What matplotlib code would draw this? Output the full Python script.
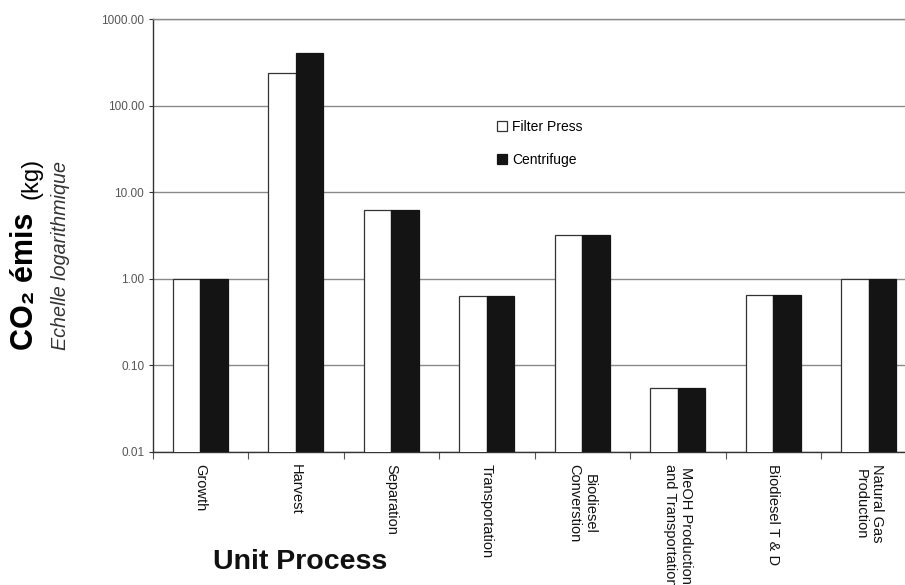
import matplotlib
matplotlib.use("Agg")
import matplotlib.pyplot as plt
from matplotlib.ticker import FixedLocator, FuncFormatter, NullLocator
import numpy as np

plt.rcParams['font.family'] = ['Liberation Sans', 'DejaVu Sans']

# Emissions per unit process (kg CO2), log scale
processes = ["Growth", "Harvest", "Separation", "Transportation",
             "Biodiesel\nConverstion", "MeOH Production\nand Transportation",
             "Biodiesel T & D", "Natural Gas\nProduction"]
filter_press = [1.0, 239.0, 6.26, 0.636, 3.2, 0.055, 0.65, 1.0]
centrifuge = [1.0, 404.0, 6.26, 0.636, 3.2, 0.055, 0.65, 1.0]
series_labels = ["Filter Press", "Centrifuge"]
y_ticks = [0.01, 0.1, 1, 10, 100, 1000]

W, H = 905, 585
fig = plt.figure(figsize=(W / 100, H / 100), dpi=100)
ax = fig.add_axes([152.5 / W, 1 - 452 / H, 764 / W, (452 - 19) / H])

x = np.arange(len(processes))
bw = 0.288
b1 = ax.bar(x - bw / 2, filter_press, bw, color="white", edgecolor="#333333",
            linewidth=0.9, label=series_labels[0], zorder=3)
b2 = ax.bar(x + bw / 2, centrifuge, bw, color="#141414", edgecolor="#141414",
            linewidth=0.9, label=series_labels[1], zorder=3)

ax.set_yscale("log")
ax.set_ylim(0.01, 1000)
ax.set_xlim(-0.5, len(processes) - 0.5)

ax.yaxis.set_major_locator(FixedLocator(y_ticks))
ax.yaxis.set_minor_locator(NullLocator())
ax.yaxis.set_major_formatter(FuncFormatter(lambda v, p: f"{v:.2f}"))
ax.tick_params(axis="y", which="major", direction="out", length=3, width=0.8,
               color="#333333", pad=3, labelsize=8.5, labelcolor="#555555")
ax.yaxis.grid(True, color="#8a8a8a", linewidth=1.0, zorder=0)

# group separators as major ticks, category names as minor tick labels
ax.set_xticks(np.arange(len(processes) + 1) - 0.5)
ax.set_xticklabels([])
ax.set_xticks(x, minor=True)
ax.set_xticklabels(processes, minor=True, rotation=-90, va="top", ha="center",
                   multialignment="center", fontsize=10.5, color="#111111",
                   linespacing=1.15)
ax.tick_params(axis="x", which="major", direction="out", length=5, width=0.8,
               color="#555555")
ax.tick_params(axis="x", which="minor", length=0, pad=9)

ax.spines["right"].set_visible(False)
ax.spines["top"].set_color("#8a8a8a")
ax.spines["top"].set_linewidth(1.0)
ax.spines["left"].set_color("#333333")
ax.spines["bottom"].set_color("#333333")
ax.spines["left"].set_linewidth(1.0)
ax.spines["bottom"].set_linewidth(1.0)

leg = ax.legend(handles=[b1, b2], loc="center left",
                bbox_to_anchor=(497 / W, 1 - 143.5 / H),
                bbox_transform=fig.transFigure, frameon=False, fontsize=10,
                handlelength=0.75, handleheight=0.75, handletextpad=0.35,
                labelspacing=1.4, borderpad=0, borderaxespad=0)

# y-axis title
fig.text(33 / W, 1 - 350 / H, "CO\u2082 émis", rotation=90, rotation_mode="anchor",
         ha="left", va="baseline", fontsize=22, fontweight="bold", color="black")
fig.text(37 / W, 1 - 199 / H, "(kg)", rotation=90, rotation_mode="anchor",
         ha="left", va="baseline", fontsize=17, color="black")
fig.text(66 / W, 1 - 350 / H, "Echelle logarithmique", rotation=90,
         rotation_mode="anchor", ha="left", va="baseline", fontsize=14.2,
         style="italic", color="#333333")

# x-axis title
fig.text(300 / W, 1 - 562 / H, "Unit Process", ha="center", va="center",
         fontsize=20.5, fontweight="bold", color="#111111")

fig.savefig("out.png", dpi=100)
